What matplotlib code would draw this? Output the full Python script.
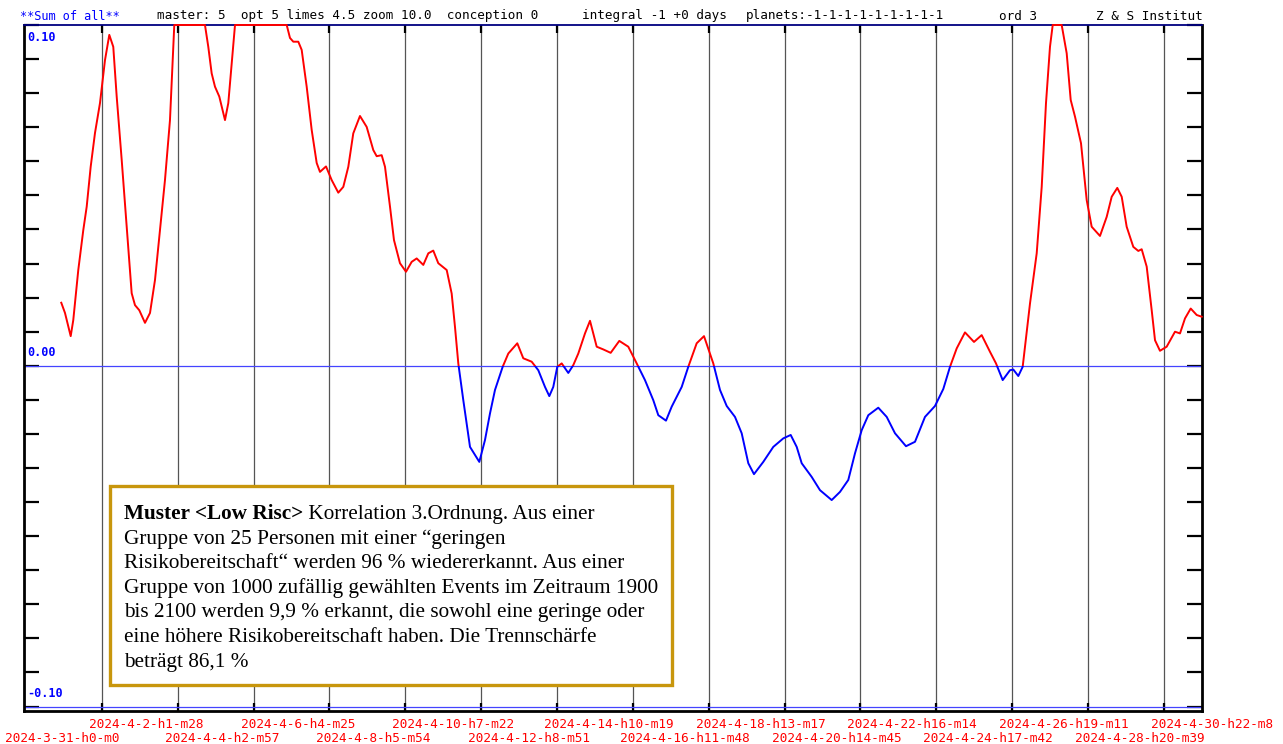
import matplotlib
matplotlib.use("Agg")
import matplotlib.pyplot as plt
from matplotlib.patches import Rectangle
import numpy as np

# curve: time in days since 2024-3-31 h0 m0, correlation value
days = [0.959, 1.060, 1.215, 1.285, 1.421, 1.557, 1.650, 1.758, 1.875, 2.011,
        2.147, 2.264, 2.372, 2.465, 2.601, 2.737, 2.872, 2.962, 3.079, 3.234,
        3.370, 3.506, 3.641, 3.777, 3.913, 4.030, 4.864, 4.954, 5.046, 5.136,
        5.253, 5.408, 5.498, 5.590, 5.680, 7.085, 7.174, 7.264, 7.400, 7.492,
        7.628, 7.764, 7.900, 7.989, 8.153, 8.307, 8.487, 8.623, 8.759, 8.894,
        9.076, 9.258, 9.438, 9.530, 9.666, 9.756, 9.892, 10.000, 10.163, 10.327,
        10.481, 10.617, 10.797, 10.933, 11.068, 11.204, 11.433, 11.568, 11.658, 11.748,
        11.884, 12.066, 12.319, 12.473, 12.609, 12.745, 12.954, 13.107, 13.351, 13.514,
        13.742, 13.922, 14.104, 14.221, 14.329, 14.438, 14.558, 14.737, 14.873, 15.009,
        15.191, 15.327, 15.509, 15.688, 15.889, 16.123, 16.367, 16.596, 16.821, 17.047,
        17.183, 17.392, 17.547, 17.819, 17.998, 18.226, 18.425, 18.677, 18.860, 19.042,
        19.267, 19.449, 19.629, 19.783, 20.036, 20.308, 20.580, 20.781, 20.944, 21.080,
        21.351, 21.577, 21.895, 22.121, 22.346, 22.528, 22.710, 22.890, 23.161, 23.390,
        23.615, 23.914, 24.159, 24.430, 24.702, 24.928, 25.110, 25.292, 25.517, 25.762,
        25.971, 26.197, 26.360, 26.542, 26.740, 26.830, 26.966, 27.085, 27.284, 27.466,
        27.602, 27.718, 27.827, 27.901, 28.145, 28.281, 28.390, 28.507, 28.670, 28.825,
        28.960, 29.186, 29.368, 29.504, 29.656, 29.776, 29.911, 30.091, 30.227, 30.319,
        30.455, 30.591, 30.681, 30.816, 30.998, 31.224, 31.360, 31.496, 31.651, 31.814,
        31.950]
values = [0.0185, 0.0155, 0.0087, 0.0134, 0.0281, 0.0398, 0.0467, 0.0584, 0.0683, 0.0771,
          0.0897, 0.0971, 0.0936, 0.0790, 0.0604, 0.0408, 0.0213, 0.0178, 0.0163, 0.0126,
          0.0155, 0.0252, 0.0398, 0.0545, 0.0721, 0.1000, 0.1000, 0.0936, 0.0858, 0.0819,
          0.0790, 0.0721, 0.0771, 0.0888, 0.1000, 0.1000, 0.0962, 0.0951, 0.0951, 0.0927,
          0.0819, 0.0692, 0.0595, 0.0569, 0.0585, 0.0545, 0.0508, 0.0525, 0.0584, 0.0682,
          0.0733, 0.0701, 0.0633, 0.0615, 0.0618, 0.0584, 0.0467, 0.0369, 0.0301, 0.0276,
          0.0305, 0.0315, 0.0296, 0.0330, 0.0338, 0.0301, 0.0281, 0.0212, 0.0114, 0.0007,
          -0.0101, -0.0238, -0.0282, -0.0218, -0.0140, -0.0071, -0.0003, 0.0036, 0.0066, 0.0022,
          0.0012, -0.0013, -0.0062, -0.0089, -0.0062, -0.0003, 0.0007, -0.0021, 0.0002, 0.0036,
          0.0095, 0.0132, 0.0056, 0.0048, 0.0038, 0.0073, 0.0056, 0.0007, -0.0042, -0.0101,
          -0.0145, -0.0161, -0.0120, -0.0062, -0.0003, 0.0066, 0.0087, 0.0007, -0.0071, -0.0118,
          -0.0150, -0.0198, -0.0286, -0.0318, -0.0282, -0.0238, -0.0213, -0.0203, -0.0238, -0.0286,
          -0.0326, -0.0365, -0.0394, -0.0370, -0.0335, -0.0257, -0.0189, -0.0145, -0.0123, -0.0150,
          -0.0198, -0.0236, -0.0223, -0.0150, -0.0118, -0.0068, -0.0003, 0.0051, 0.0098, 0.0070,
          0.0090, 0.0041, 0.0007, -0.0042, -0.0013, -0.0011, -0.0030, -0.0003, 0.0183, 0.0330,
          0.0525, 0.0770, 0.0936, 0.1000, 0.1000, 0.0917, 0.0780, 0.0731, 0.0653, 0.0486,
          0.0408, 0.0381, 0.0437, 0.0496, 0.0522, 0.0496, 0.0408, 0.0349, 0.0337, 0.0342,
          0.0291, 0.0163, 0.0075, 0.0044, 0.0056, 0.0100, 0.0095, 0.0139, 0.0168, 0.0149,
          0.0144]

tick_step = 2.06151  # 2 days 1 h 28.6 min
tick_labels = ["2024-3-31-h0-m0", "2024-4-2-h1-m28", "2024-4-4-h2-m57", "2024-4-6-h4-m25",
               "2024-4-8-h5-m54", "2024-4-10-h7-m22", "2024-4-12-h8-m51", "2024-4-14-h10-m19",
               "2024-4-16-h11-m48", "2024-4-18-h13-m17", "2024-4-20-h14-m45", "2024-4-22-h16-m14",
               "2024-4-24-h17-m42", "2024-4-26-h19-m11", "2024-4-28-h20-m39", "2024-4-30-h22-m8"]

header = [("**Sum of all**", 20, "#0000ff", 8.6),
          ("master: 5  opt 5 limes 4.5 zoom 10.0  conception 0", 157, "black", 9.1),
          ("integral -1 +0 days", 582, "black", 9.1),
          ("planets:-1-1-1-1-1-1-1-1-1", 746, "black", 9.1),
          ("ord 3", 999, "black", 9.1),
          ("Z & S Institut", 1096, "black", 9.1)]

note_bold = "Muster <Low Risc>"
note_lines = [" Korrelation 3.Ordnung. Aus einer",
              "Gruppe von 25 Personen mit einer \u201cgeringen",
              "Risikobereitschaft\u201c werden 96 % wiedererkannt. Aus einer",
              "Gruppe von 1000 zuf\u00e4llig gew\u00e4hlten Events im Zeitraum 1900",
              "bis 2100 werden 9,9 % erkannt, die sowohl eine geringe oder",
              "eine h\u00f6here Risikobereitschaft haben. Die Trennsch\u00e4rfe",
              "betr\u00e4gt 86,1 %"]

W, H = 1283, 744
fig = plt.figure(figsize=(W / 100, H / 100), dpi=100)
ax = fig.add_axes([24 / W, 1 - 711 / H, (1202 - 24) / W, (711 - 25) / H])
mono = "DejaVu Sans Mono"

x = np.array(days)
y = np.array(values)
ax.set_xlim(-0.054, 31.958)
ax.set_ylim(-0.1013, 0.10)

# red above zero, blue below zero
red, = ax.plot(x, y, color="#ff0000", lw=1.4, zorder=4)
blue, = ax.plot(x, y, color="#0000ff", lw=1.4, zorder=4)
red.set_clip_path(Rectangle((-1, 0), 40, 1, transform=ax.transData))
blue.set_clip_path(Rectangle((-1, -1), 40, 1, transform=ax.transData))

ticks = np.arange(16) * tick_step
for t in ticks[1:]:
    ax.axvline(t, color="#555555", lw=0.9, zorder=1)
ax.axhline(0, color="#4444ff", lw=0.9, zorder=2)
ax.axhline(-0.10, color="#4444ff", lw=0.9, zorder=2)

ax.set_xticks(ticks[1:])
ax.set_xticklabels([])
ax.tick_params(axis="x", direction="in", top=True, bottom=True, length=6, width=1.6, color="black")
ax.set_yticks(np.arange(-10, 11) * 0.01)
ax.set_yticklabels([])
ax.tick_params(axis="y", direction="in", left=True, right=True, length=11, width=1.6, color="black")

for s in ["left", "right", "bottom"]:
    ax.spines[s].set_linewidth(2)
ax.spines["top"].set_color("#000080")
ax.spines["top"].set_linewidth(1.3)

ylab = dict(color="#0000ff", family=mono, fontsize=8.5, fontweight="bold",
            xycoords=("axes fraction", "data"), textcoords="offset pixels", ha="left")
ax.annotate("0.10", (0.003, 0.10), xytext=(0, -6), va="top", **ylab)
ax.annotate("0.00", (0.003, 0.0), xytext=(0, 7), va="bottom", **ylab)
ax.annotate("-0.10", (0.003, -0.10), xytext=(0, 7), va="bottom", **ylab)

for k, (t, lab) in enumerate(zip(ticks, tick_labels)):
    dy = -13 if k % 2 else -27
    dx = -21 if k == 0 else -13
    ax.annotate(lab, (t, 0), xycoords=("data", "axes fraction"), xytext=(dx, dy),
                textcoords="offset pixels", ha="left", va="center", color="#ff0000",
                family=mono, fontsize=9.2)

for txt, px, col, size in header:
    fig.text(px / W, 1 - 16 / H, txt, color=col, family=mono, fontsize=size,
             ha="left", va="center")

# note box
fig.patches.append(Rectangle((110 / W, 1 - 685 / H), (672 - 110) / W, (685 - 486) / H,
                             transform=fig.transFigure, facecolor="white",
                             edgecolor="#c8960c", lw=2.4, zorder=5))
serif = "Liberation Serif"
fs = 15.3
b = fig.text(124 / W, 1 - 519 / H, note_bold, family=serif, fontsize=fs,
             fontweight="bold", va="baseline", ha="left", zorder=6)
bw = b.get_window_extent(renderer=fig.canvas.get_renderer()).width
for i, line in enumerate(note_lines):
    px = 124 + (bw if i == 0 else 0)
    fig.text(px / W, 1 - (519 + 24.6 * i) / H, line, family=serif, fontsize=fs,
             va="baseline", ha="left", zorder=6)

fig.savefig("out.png", dpi=100)
